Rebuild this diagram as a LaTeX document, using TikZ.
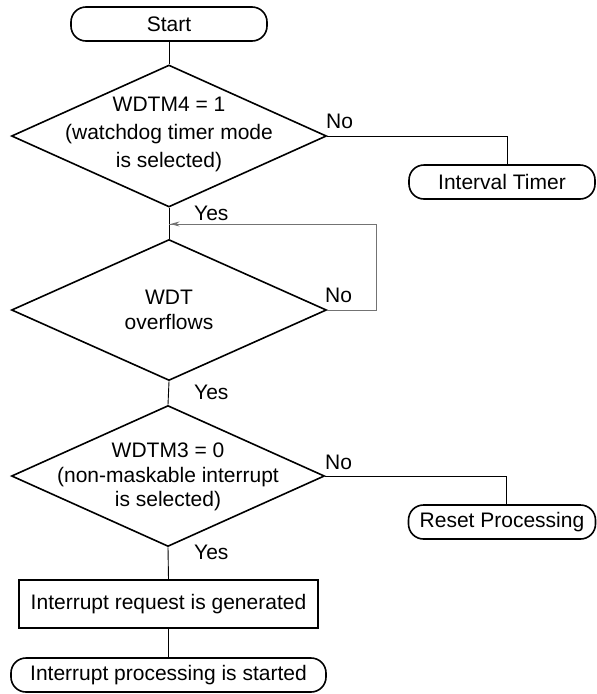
\documentclass[tikz,border=0pt]{standalone}
\usepackage{fontspec}
\setmainfont{Liberation Sans}
\usetikzlibrary{shapes.geometric,arrows.meta,calc}
\begin{document}
\begin{tikzpicture}[x=1pt,y=-1pt,
  every node/.style={font=\fontsize{21}{25}\selectfont, inner sep=0pt},
  term/.style={draw, line width=1.6pt, rounded corners=15pt, minimum height=34pt},
  procbox/.style={draw, line width=1.6pt, rectangle, minimum height=48pt},
  dia/.style={draw, line width=1.6pt, diamond, minimum width=315pt, minimum height=142pt},
  dtext/.style={align=center},
  conn/.style={line width=0.9pt},
  loopline/.style={line width=0.9pt, draw=black!55},
  lbl/.style={anchor=west}]
\useasboundingbox (0,0) rectangle (597,694);

% nodes
\node[term, minimum width=196pt] (start) at (169,24) {Start};
\node[dia] (d1) at (169,136) {};
\node[dtext, font=\fontsize{21}{28}\selectfont] (t1) at (169,134) {WDTM4 = 1\\(watchdog timer mode\\is selected)};
\node[term, minimum width=186pt] (it) at (502,182) {Interval Timer};
\node[dia, minimum height=141pt] (d2) at (169,310) {};
\node[dtext] (t2) at (169,310) {WDT\\overflows};
\node[dia, minimum width=313pt, minimum height=141pt] (d3) at (168,476) {};
\node[dtext, font=\fontsize{21}{24.5}\selectfont] (t3) at (168,477) {WDTM3 = 0\\(non-maskable interrupt\\is selected)};
\node[term, minimum width=187pt] (rp) at (502,522) {Reset Processing};
\node[procbox, minimum width=299pt] (irq) at (168.5,604) {Interrupt request is generated};
\node[term, minimum width=315pt, minimum height=34pt] (ips) at (168.5,675) {Interrupt processing is started};

% labels
\node[lbl] (no1) at (326,121) {No};
\node[lbl] (yes1) at (194,213) {Yes};
\node[lbl] (no2) at (325,295) {No};
\node[lbl] (yes2) at (194,392) {Yes};
\node[lbl] (no3) at (325,462) {No};
\node[lbl] (yes3) at (194,552) {Yes};

% helper coordinates
\coordinate (c1) at (507,136);
\coordinate (lp1) at (376,310);
\coordinate (lp2) at (376,224);
\coordinate (lp3) at (169,224);
\coordinate (c3) at (506,476);

% connectors
\draw[conn] (start.south) -- (d1.north);
\draw[conn] (d1.east) -- (c1) -- (c1 |- it.north);
\draw[conn] (d1.south) -- (d2.north);
\draw[loopline] (d2.east) -- (lp1) -- (lp2) -- (lp3);
\draw[loopline, -{Stealth[length=9pt,width=5pt]}] (lp2) -- ($(lp3)+(1.5,0)$);
\draw[conn] (d2.south) -- (d3.north);
\draw[conn] (d3.east) -- (c3) -- (c3 |- rp.north);
\draw[conn] (d3.south) -- (irq.north);
\draw[conn] (irq.south) -- (ips.north);
\end{tikzpicture}
\end{document}
